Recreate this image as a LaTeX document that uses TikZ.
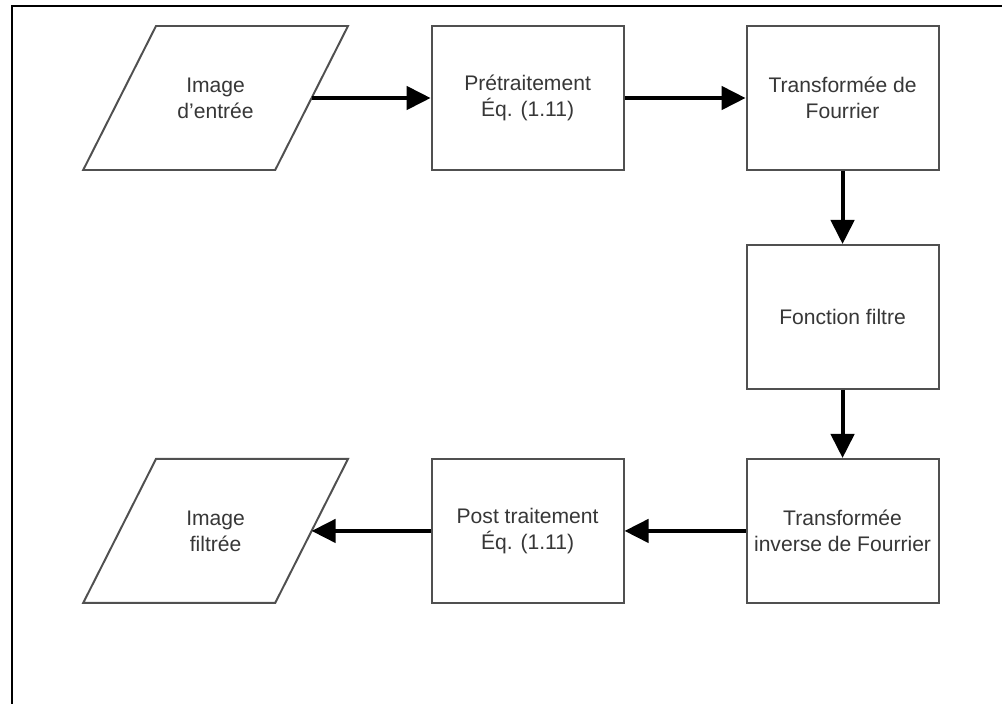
\documentclass[tikz,border=0pt]{standalone}
\usepackage{fontspec}
\setmainfont{Liberation Sans}
\usetikzlibrary{arrows.meta,positioning}
\definecolor{Edge}{RGB}{80,80,80}
\definecolor{Ink}{RGB}{55,55,55}
\tikzset{
  fbox/.style={rectangle,draw=Edge,fill=white,line width=1.4pt,
               font=\fontsize{15}{18.5}\selectfont,text=Ink,align=center,
               minimum width=4.8cm,minimum height=3.6cm,inner sep=2pt},
  fio/.style={fbox,draw=none,fill=none,outer sep=0pt},
  fioline/.style={draw=Edge,line width=1.4pt,line join=miter},
  farrow/.style={-{Triangle[length=0.6cm,width=0.58cm]},line width=2.8pt,black},
}
% slanted outline round an input/output node
\newcommand\ioframe[1]{%
  \draw[fioline] ([xshift=9.1mm]#1.north west) -- ([xshift=9.1mm]#1.north east)
    -- ([xshift=-9.1mm]#1.south east) -- ([xshift=-9.1mm]#1.south west) -- cycle;}
\begin{document}
\begin{tikzpicture}
  \useasboundingbox (0,0) rectangle (25.05,-17.6);
  % frame
  \draw[line width=2pt] (25.05,-0.15) -- (0.3,-0.15) -- (0.3,-17.6);
  % top row
  \node[fio] (in) at (5.39,-2.45) {Image\\d'entrée};
  \ioframe{in}
  \node[fbox,right=2.975cm of in] (pre) {Prétraitement\\Éq. (1.11)};
  \node[fbox,right=3.025cm of pre] (tf) {Transformée de\\Fourrier};
  % right column
  \node[fbox,below=1.825cm of tf] (filt) {Fonction filtre};
  \node[fbox,below=1.7cm of filt] (itf) {Transformée\\inverse de Fourrier};
  % bottom row
  \node[fbox,left=3.025cm of itf] (post) {Post traitement\\Éq. (1.11)};
  \node[fio,left=2.975cm of post] (out) {Image\\filtrée};
  \ioframe{out}

  \draw[farrow] (in) -- (pre);
  \draw[farrow] (pre) -- (tf);
  \draw[farrow] (tf) -- (filt);
  \draw[farrow] (filt) -- (itf);
  \draw[farrow] (itf) -- (post);
  \draw[farrow] (post) -- (out);
\end{tikzpicture}
\end{document}
